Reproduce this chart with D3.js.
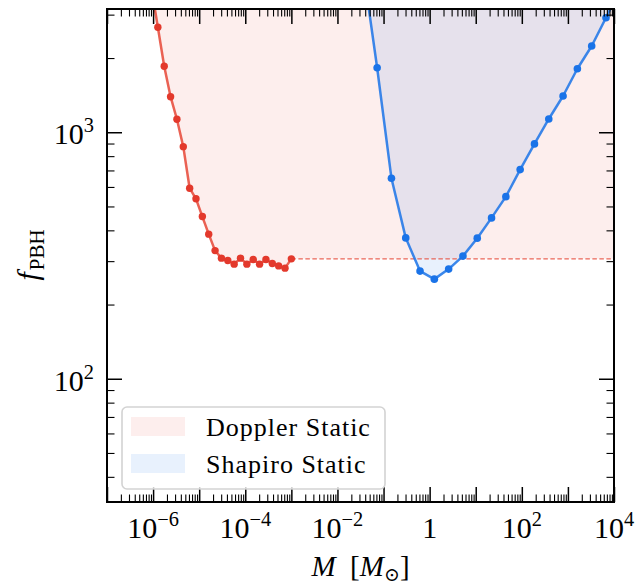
<!DOCTYPE html>
<html>
<head>
<meta charset="utf-8">
<script src="https://cdn.jsdelivr.net/npm/d3@7/dist/d3.min.js"></script>
<style>
  body { margin: 0; background: #fff; }
  svg { display: block; }
  text { font-family: "Liberation Serif", "DejaVu Serif", serif; fill: #000; }
</style>
</head>
<body>
<svg id="chart" width="636" height="586"></svg>
<script>
// Doppler static limit: PBH mass [M_sun] and f_PBH
const dopplerMass = [9.24e-7, 1.269e-6, 1.743e-6, 2.395e-6, 3.29e-6, 4.52e-6, 6.21e-6, 8.53e-6,
  1.172e-5, 1.61e-5, 2.212e-5, 3.04e-5, 4.175e-5, 5.74e-5, 7.88e-5, 1.083e-4, 1.488e-4,
  2.043e-4, 2.807e-4, 3.857e-4, 5.30e-4, 7.28e-4, 1.0e-3];
const dopplerF = [3830, 2665, 1852, 1394, 1129, 874, 593, 537, 455, 386, 331, 308.5, 301.7,
  291.7, 308.5, 291.7, 304.5, 291.7, 304.5, 293.4, 287, 281, 306.5];

// Shapiro static limit
const shapiroMass = [0.0356, 0.0726, 0.1483, 0.303, 0.619, 1.265, 2.585, 5.28, 10.79, 22.04,
  45.1, 92.0, 188.2, 384.6, 785, 1605, 3280, 6700, 13680];
const shapiroF = [4696, 1827, 651, 372.8, 273.3, 253.6, 278.5, 314.4, 371.8, 449.4, 548, 705.6,
  896.8, 1132, 1403, 1810, 2238, 2914, 3817];

// Axis ticks and legend entries
const xDomain = [1e-7, 1e4];
const yDomain = [Math.pow(10, 1.5), Math.pow(10, 3.5)];
const xLabelExps = [-6, -4, -2, 0, 2, 4];
const yLabelExps = [2, 3];
const legendLabels = ["Doppler Static", "Shapiro Static"];

const RED = "#e74c3c";
const BLUE = "#1a73e8";
const RED_FILL_OPACITY = 0.095;
const BLUE_FILL_OPACITY = 0.1;

const svg = d3.select("#chart");
const plot = { left: 107, top: 9, right: 614, bottom: 502 };

const x = d3.scaleLog().domain(xDomain).range([plot.left, plot.right]);
const y = d3.scaleLog().domain(yDomain).range([plot.bottom, plot.top]);

svg.append("defs").append("clipPath").attr("id", "plot-clip")
  .append("rect")
  .attr("x", plot.left).attr("y", plot.top)
  .attr("width", plot.right - plot.left).attr("height", plot.bottom - plot.top);

const doppler = dopplerMass.map((m, i) => ({ m, f: dopplerF[i] }));
const shapiro = shapiroMass.map((m, i) => ({ m, f: shapiroF[i] }));
const dopplerLast = doppler[doppler.length - 1];
// Doppler bound continues flat beyond the last computed mass
const dopplerExt = doppler.concat([{ m: xDomain[1], f: dopplerLast.f }]);

const body = svg.append("g").attr("clip-path", "url(#plot-clip)");

const areaAbove = d3.area()
  .x(d => x(d.m))
  .y0(y(yDomain[1]) - 5)
  .y1(d => y(d.f));
const line = d3.line().x(d => x(d.m)).y(d => y(d.f));

body.append("path").datum(dopplerExt)
  .attr("d", areaAbove).attr("fill", RED).attr("fill-opacity", RED_FILL_OPACITY);
body.append("path").datum(shapiro)
  .attr("d", areaAbove).attr("fill", BLUE).attr("fill-opacity", BLUE_FILL_OPACITY);

body.append("path")
  .datum([dopplerLast, { m: xDomain[1], f: dopplerLast.f }])
  .attr("d", line).attr("fill", "none")
  .attr("stroke", RED).attr("stroke-opacity", 0.85)
  .attr("stroke-width", 1.2).attr("stroke-dasharray", "4.5,2.5");

body.append("path").datum(doppler).attr("d", line)
  .attr("fill", "none").attr("stroke", RED).attr("stroke-opacity", 0.88)
  .attr("stroke-width", 2.5).attr("stroke-linejoin", "round");
body.append("path").datum(shapiro).attr("d", line)
  .attr("fill", "none").attr("stroke", BLUE).attr("stroke-opacity", 0.85)
  .attr("stroke-width", 2.5).attr("stroke-linejoin", "round");

body.append("g").selectAll("circle").data(doppler).join("circle")
  .attr("cx", d => x(d.m)).attr("cy", d => y(d.f)).attr("r", 3.7)
  .attr("fill", "#e3392c");
body.append("g").selectAll("circle").data(shapiro).join("circle")
  .attr("cx", d => x(d.m)).attr("cy", d => y(d.f)).attr("r", 3.8)
  .attr("fill", BLUE);

// Tick positions: decades and their 2..9 subdivisions
const xMajor = d3.range(-7, 5).map(e => Math.pow(10, e));
const xMinor = [];
d3.range(-7, 4).forEach(e => { for (let k = 2; k <= 9; k++) xMinor.push(k * Math.pow(10, e)); });
const yMajor = [100, 1000];
const yMinor = [];
[1, 2, 3].forEach(e => { for (let k = 2; k <= 9; k++) {
  const v = k * Math.pow(10, e);
  if (v >= yDomain[0] && v <= yDomain[1]) yMinor.push(v);
} });

function ticks(axis, transform, width) {
  svg.append("g").attr("transform", transform)
    .call(axis.tickFormat(""))
    .call(g => g.select(".domain").remove())
    .call(g => g.selectAll(".tick line").attr("stroke", "#000").attr("stroke-width", width));
}
const MAJ = 15, MIN = 7.5;
ticks(d3.axisBottom(x).tickValues(xMajor).tickSize(-MAJ), `translate(0,${plot.bottom})`, 1.5);
ticks(d3.axisBottom(x).tickValues(xMinor).tickSize(-MIN), `translate(0,${plot.bottom})`, 1.1);
ticks(d3.axisTop(x).tickValues(xMajor).tickSize(-MAJ), `translate(0,${plot.top})`, 1.5);
ticks(d3.axisTop(x).tickValues(xMinor).tickSize(-MIN), `translate(0,${plot.top})`, 1.1);
ticks(d3.axisLeft(y).tickValues(yMajor).tickSize(-MAJ), `translate(${plot.left},0)`, 1.5);
ticks(d3.axisLeft(y).tickValues(yMinor).tickSize(-MIN), `translate(${plot.left},0)`, 1.1);
ticks(d3.axisRight(y).tickValues(yMajor).tickSize(-MAJ), `translate(${plot.right},0)`, 1.5);
ticks(d3.axisRight(y).tickValues(yMinor).tickSize(-MIN), `translate(${plot.right},0)`, 1.1);

svg.append("rect")
  .attr("x", plot.left).attr("y", plot.top)
  .attr("width", plot.right - plot.left).attr("height", plot.bottom - plot.top)
  .attr("fill", "none").attr("stroke", "#000").attr("stroke-width", 2);

// Power-of-ten tick labels
const TICK_FS = 30;
function powerLabel(sel, e) {
  if (e === 0) { sel.text("1"); return; }
  sel.append("tspan").text("10");
  sel.append("tspan").attr("dy", -12).attr("font-size", TICK_FS * 0.68)
    .text(e < 0 ? "\u2212" + Math.abs(e) : String(e));
}
svg.append("g").selectAll("text").data(xLabelExps).join("text")
  .attr("x", e => x(Math.pow(10, e))).attr("y", 538)
  .attr("text-anchor", "middle").attr("font-size", TICK_FS)
  .each(function (e) { powerLabel(d3.select(this), e); });
svg.append("g").selectAll("text").data(yLabelExps).join("text")
  .attr("x", 94).attr("y", e => y(Math.pow(10, e)) + 12)
  .attr("text-anchor", "end").attr("font-size", TICK_FS)
  .each(function (e) { powerLabel(d3.select(this), e); });

// Axis titles
const xt = svg.append("text").attr("x", (plot.left + plot.right) / 2).attr("y", 576)
  .attr("text-anchor", "middle").attr("font-size", 29);
xt.append("tspan").attr("font-style", "italic").text("M");
xt.append("tspan").text("\u2002[");
xt.append("tspan").attr("font-style", "italic").text("M");
xt.append("tspan").attr("font-size", 19).attr("dy", 5).text("\u2299");
xt.append("tspan").attr("dy", -5).text("]");

const yt = svg.append("text").attr("transform", "translate(38,255) rotate(-90)")
  .attr("text-anchor", "middle").attr("font-size", 30);
yt.append("tspan").attr("font-style", "italic").text("f");
yt.append("tspan").attr("font-size", 21).attr("dy", 6).attr("dx", 2).text("PBH");

// Legend
const lg = svg.append("g");
lg.append("rect").attr("x", 122).attr("y", 407).attr("width", 263).attr("height", 82)
  .attr("rx", 5).attr("fill", "#fff").attr("fill-opacity", 0.8)
  .attr("stroke", "#d3d3d3").attr("stroke-width", 1.6);
const legendFill = [[RED, RED_FILL_OPACITY], [BLUE, BLUE_FILL_OPACITY]];
legendLabels.forEach((label, i) => {
  const yy = 417 + i * 37;
  lg.append("rect").attr("x", 131).attr("y", yy).attr("width", 54).attr("height", 19)
    .attr("fill", legendFill[i][0]).attr("fill-opacity", legendFill[i][1]);
  lg.append("text").attr("x", 206).attr("y", yy + 19).attr("font-size", 26)
    .attr("letter-spacing", 1).text(label);
});
</script>
</body>
</html>
